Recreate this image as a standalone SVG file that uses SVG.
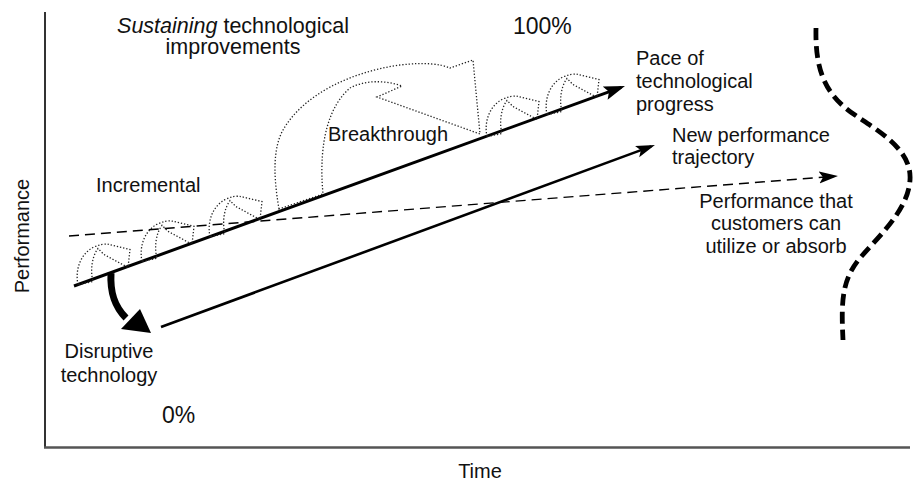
<svg xmlns="http://www.w3.org/2000/svg" xmlns:xlink="http://www.w3.org/1999/xlink" width="916" height="485" viewBox="0 0 916 485">
<style>
text{font-family:"Liberation Sans",Arial,Helvetica,sans-serif;fill:#111;font-size:20px}
.big{font-size:21.5px}
.pct{font-size:23px}
.dot{fill:none;stroke:#222;stroke-width:1.3;stroke-dasharray:1.3 1.9}
.axis{stroke:#333;stroke-width:2;fill:none}
</style>
<defs>
<marker id="hBig" markerUnits="userSpaceOnUse" markerWidth="22" markerHeight="16" refX="17" refY="7" orient="auto"><path d="M0,0 L21,7 L0,14 L4,7 Z" fill="#000"/></marker>
<marker id="hMid" markerUnits="userSpaceOnUse" markerWidth="20" markerHeight="14" refX="15" refY="6" orient="auto"><path d="M0,0 L19,6 L0,12 L4,6 Z" fill="#000"/></marker>
<path id="incr" class="dot" d="M0,0 C-3,-14 2,-30 15,-37 C21,-40 27,-41 31,-40 L52,-35 L50,-17 L26,-30 L20,-36 C14,-28 12,-14 15,-3 Z"/>
</defs>
<rect width="916" height="485" fill="#fff"/>
<g id="axes">
<line class="axis" x1="45" y1="12" x2="45" y2="448"/>
<line x1="44" y1="447.5" x2="910" y2="447.5" stroke="#555" stroke-width="2.4"/>
</g>
<g id="labels">
<text transform="translate(29,236) rotate(-90)" text-anchor="middle" font-size="21">Performance</text>
<text x="480" y="478" text-anchor="middle">Time</text>
<text class="big" x="233" y="33" text-anchor="middle"><tspan font-style="italic">Sustaining</tspan> technological</text>
<text class="big" x="233" y="54" text-anchor="middle">improvements</text>
<text class="pct" x="513" y="34">100%</text>
<text class="pct" x="162" y="423">0%</text>
</g>
<g id="connectors">
<line x1="74" y1="286" x2="621.2" y2="87.4" stroke="#000" stroke-width="3" marker-end="url(#hBig)"/>
<line x1="161" y1="327" x2="651.2" y2="146.4" stroke="#000" stroke-width="2.6" marker-end="url(#hMid)"/>
<line x1="69" y1="236" x2="834" y2="176.3" stroke="#000" stroke-width="1.4" stroke-dasharray="10 6" marker-end="url(#hMid)"/>
<path d="M816,28 C815,70 825,95 855,115 C880,132 912,150 910,180 C908,210 880,235 860,258 C842,280 841,300 843,340" fill="none" stroke="#000" stroke-width="4.8" stroke-dasharray="12 6"/>
</g>
<g id="incremental">
<use xlink:href="#incr" x="78" y="284.5"/>
<use xlink:href="#incr" x="142" y="261.3"/>
<use xlink:href="#incr" x="210" y="236.6"/>
<use xlink:href="#incr" x="487" y="136.5"/>
<use xlink:href="#incr" x="547" y="114.5"/>
<text x="96" y="192">Incremental</text>
</g>
<g id="breakthrough">
<path class="dot" d="M279,209 C274,180 272,150 283,130 C303,95 350,72 400,65 C425,62 440,64 450,68 L473,60 L480,134 L377,97 L402,86 C385,80 365,80 350,88 C330,105 318,140 323,194 Z"/>
<text x="328" y="141">Breakthrough</text>
</g>
<g id="disruptive">
<path d="M111,273 C110,292 114,306 126,318" fill="none" stroke="#000" stroke-width="7"/>
<polygon points="121,329 151,333 140,309" fill="#000"/>
<text x="109" y="358" text-anchor="middle">Disruptive</text>
<text x="109" y="382" text-anchor="middle">technology</text>
</g>
<g id="pace">
<text x="636" y="65">Pace of</text>
<text x="636" y="88">technological</text>
<text x="636" y="111">progress</text>
</g>
<g id="newtraj">
<text x="672" y="142">New performance</text>
<text x="672" y="164">trajectory</text>
</g>
<g id="customers">
<text x="776" y="208" text-anchor="middle">Performance that</text>
<text x="776" y="230" text-anchor="middle">customers can</text>
<text x="776" y="253" text-anchor="middle">utilize or absorb</text>
</g>
</svg>
